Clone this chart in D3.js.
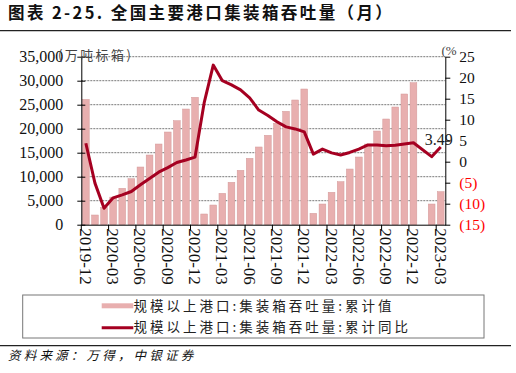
<!DOCTYPE html>
<html>
<head>
<meta charset="utf-8">
<script src="https://cdn.jsdelivr.net/npm/d3@7/dist/d3.min.js"></script>
<style>
  body { margin: 0; background: #fff; }
  svg { display: block; }
</style>
</head>
<body>
<div id="chart"></div>
<script>
// months on the category axis
const months = [
  '2019-12',
  '2020-01', '2020-02', '2020-03', '2020-04', '2020-05', '2020-06',
  '2020-07', '2020-08', '2020-09', '2020-10', '2020-11', '2020-12',
  '2021-01', '2021-02', '2021-03', '2021-04', '2021-05', '2021-06',
  '2021-07', '2021-08', '2021-09', '2021-10', '2021-11', '2021-12',
  '2022-01', '2022-02', '2022-03', '2022-04', '2022-05', '2022-06',
  '2022-07', '2022-08', '2022-09', '2022-10', '2022-11', '2022-12',
  '2023-01', '2023-02', '2023-03'
];

// 累计值 (万吨标箱)
const volume = [
  26100,
  2020, 3600, 5750, 7580, 9580, 12020,
  14520, 16810, 19310, 21670, 24100, 26540,
  2230, 4100, 6530, 8830, 11330, 13830,
  16190, 18620, 21120, 23620, 25980, 28270,
  2370, 4310, 6750, 8960, 11600, 14100,
  16800, 19520, 22020, 24520, 27230, 29580,
  null, 4310, 6880
];

// 累计同比 (%)
const yoy = [
  4.4,
  -5.1, -11.1, -8.6, -7.9, -7.1, -5.5,
  -4.0, -2.5, -1.4, -0.2, 0.4, 1.1,
  14.0, 23.0, 19.3, 18.3, 17.1, 15.2,
  12.3, 11.0, 9.5, 8.3, 7.8, 7.1,
  1.8, 3.0, 2.1, 1.6, 2.2, 3.0,
  4.0, 4.0, 3.8, 3.9, 4.2, 4.5,
  null, 1.2, 3.49
];

const leftTicks = [0, 5000, 10000, 15000, 20000, 25000, 30000, 35000];
const rightTicks = [-15, -10, -5, 0, 5, 10, 15, 20, 25];
const labelMonths = months.filter((m, i) => i % 3 === 0);
const seriesNames = ['规模以上港口:集装箱吞吐量:累计值', '规模以上港口:集装箱吞吐量:累计同比'];

const serif = '"Liberation Serif", "Times New Roman", serif';
const cjk = '"Noto Sans CJK SC", sans-serif';
const barColor = '#e8afaf';
const lineColor = '#a50021';

const width = 516, height = 373;
const margin = { top: 56.7, right: 70.7, bottom: 148.3, left: 81.3 };
const graphWidth = width - margin.left - margin.right;
const graphHeight = height - margin.top - margin.bottom;

const svg = d3.select('#chart')
  .append('svg')
  .attr('width', width)
  .attr('height', height);

// title + rules
svg.append('text')
  .attr('x', 8)
  .attr('y', 18.5)
  .attr('font-family', cjk)
  .attr('font-weight', 'bold')
  .attr('font-size', 16.5)
  .attr('letter-spacing', 2.4)
  .attr('fill', '#111')
  .text('图表 2-25. 全国主要港口集装箱吞吐量（月）');

svg.append('line')
  .attr('x1', 0).attr('x2', 511)
  .attr('y1', 30.7).attr('y2', 30.7)
  .attr('stroke', '#222').attr('stroke-width', 1.3);

svg.append('line')
  .attr('x1', 0).attr('x2', 511)
  .attr('y1', 345.7).attr('y2', 345.7)
  .attr('stroke', '#222').attr('stroke-width', 1.3);

svg.append('text')
  .attr('x', 8)
  .attr('y', 360)
  .attr('font-family', cjk)
  .attr('font-style', 'italic')
  .attr('font-size', 12.5)
  .attr('letter-spacing', 3.2)
  .attr('fill', '#111')
  .text('资料来源：万得，中银证券');

const graph = svg.append('g')
  .attr('transform', `translate(${margin.left}, ${margin.top})`);

//Scales
const x = d3.scaleBand()
  .domain(months)
  .range([0, graphWidth])
  .paddingInner(0.26)
  .paddingOuter(0.13);

const yL = d3.scaleLinear()
  .domain([0, 35000])
  .range([graphHeight, 0]);

const yR = d3.scaleLinear()
  .domain([-15, 25])
  .range([graphHeight, 0]);

//gridlines
graph.append('g')
  .selectAll('line')
  .data(leftTicks.filter(d => d > 0))
  .enter()
  .append('line')
  .attr('x1', 0)
  .attr('x2', graphWidth)
  .attr('y1', d => yL(d))
  .attr('y2', d => yL(d))
  .attr('stroke', '#555')
  .attr('stroke-width', 0.8)
  .attr('stroke-dasharray', '2,1');

//bars
const barData = months.map((m, i) => ({ m, v: volume[i] })).filter(d => d.v != null);

graph.append('g')
  .selectAll('rect')
  .data(barData)
  .enter()
  .append('rect')
  .attr('x', d => x(d.m))
  .attr('y', d => yL(d.v))
  .attr('width', x.bandwidth())
  .attr('height', d => graphHeight - yL(d.v))
  .attr('fill', barColor)
  .attr('stroke', '#d49a9a')
  .attr('stroke-width', 0.5);

//axes
const xAxisGroup = graph.append('g')
  .attr('transform', `translate(0, ${graphHeight})`)
  .call(d3.axisBottom(x).tickValues(labelMonths).tickSize(6).tickSizeOuter(0));

xAxisGroup.selectAll('.tick line')
  .attr('x1', -x.step() / 2)
  .attr('x2', -x.step() / 2);

xAxisGroup.selectAll('.tick text')
  .attr('transform', 'rotate(90)')
  .attr('x', 3.5)
  .attr('y', 0)
  .attr('text-anchor', 'start')
  .attr('font-family', serif)
  .attr('font-size', 17)
  .attr('fill', '#111');

const yAxisGroup = graph.append('g')
  .call(d3.axisLeft(yL).tickValues(leftTicks).tickSize(4).tickSizeOuter(0).tickPadding(14).tickFormat(d3.format(',')));

yAxisGroup.selectAll('.tick line').attr('x1', 4);
yAxisGroup.selectAll('.tick text')
  .attr('font-family', serif)
  .attr('font-size', 16)
  .attr('fill', '#111');

const yRAxisGroup = graph.append('g')
  .attr('transform', `translate(${graphWidth}, 0)`)
  .call(d3.axisRight(yR).tickValues(rightTicks).tickSize(5).tickSizeOuter(0).tickPadding(9)
    .tickFormat(d => d < 0 ? `(${-d})` : d));

yRAxisGroup.selectAll('.tick text')
  .attr('font-family', serif)
  .attr('font-size', 15.5)
  .attr('fill', d => d < 0 ? '#ff0000' : '#111');

graph.selectAll('.domain').attr('stroke', '#000');
graph.selectAll('.tick line').attr('stroke', '#000');
graph.selectAll('.tick text').attr('dy', function () {
  return d3.select(this).attr('transform') ? '0.35em' : '0.32em';
});

//yoy line
const lineData = months.map((m, i) => ({ m, v: yoy[i] })).filter(d => d.v != null);

const line = d3.line()
  .x(d => x(d.m) + x.bandwidth() / 2)
  .y(d => yR(d.v));

graph.append('path')
  .datum(lineData)
  .attr('d', line)
  .attr('fill', 'none')
  .attr('stroke', lineColor)
  .attr('stroke-width', 3)
  .attr('stroke-linejoin', 'round');

const last = lineData[lineData.length - 1];
graph.append('text')
  .attr('x', x(last.m) + x.bandwidth() / 2 - 2)
  .attr('y', yR(last.v) - 2)
  .attr('text-anchor', 'middle')
  .attr('font-family', serif)
  .attr('font-size', 16)
  .attr('fill', '#222')
  .text(last.v);

//unit labels
svg.append('text')
  .attr('x', 58)
  .attr('y', 60)
  .attr('font-family', cjk)
  .attr('font-size', 13)
  .attr('letter-spacing', 2.4)
  .attr('fill', '#444')
  .text('(万吨标箱)');

svg.append('text')
  .attr('x', 441.5)
  .attr('y', 54.5)
  .attr('font-family', serif)
  .attr('font-size', 13)
  .attr('fill', '#444')
  .text('(%');

//legend
const legend = svg.append('g');

legend.append('rect')
  .attr('x', 22.7)
  .attr('y', 295)
  .attr('width', 461.3)
  .attr('height', 43)
  .attr('fill', 'none')
  .attr('stroke', '#777')
  .attr('stroke-width', 1);

legend.append('rect')
  .attr('x', 101.7)
  .attr('y', 303.3)
  .attr('width', 31.6)
  .attr('height', 5)
  .attr('fill', barColor);

legend.append('line')
  .attr('x1', 101.7)
  .attr('x2', 133.3)
  .attr('y1', 327.7)
  .attr('y2', 327.7)
  .attr('stroke', lineColor)
  .attr('stroke-width', 3);

legend.selectAll('text.item')
  .data(seriesNames)
  .enter()
  .append('text')
  .attr('class', 'item')
  .attr('x', 133.5)
  .attr('y', (d, i) => 310.5 + i * 21.7)
  .attr('font-family', cjk)
  .attr('font-size', 13.5)
  .attr('letter-spacing', 3)
  .attr('fill', '#222')
  .text(d => d);
</script>
</body>
</html>
